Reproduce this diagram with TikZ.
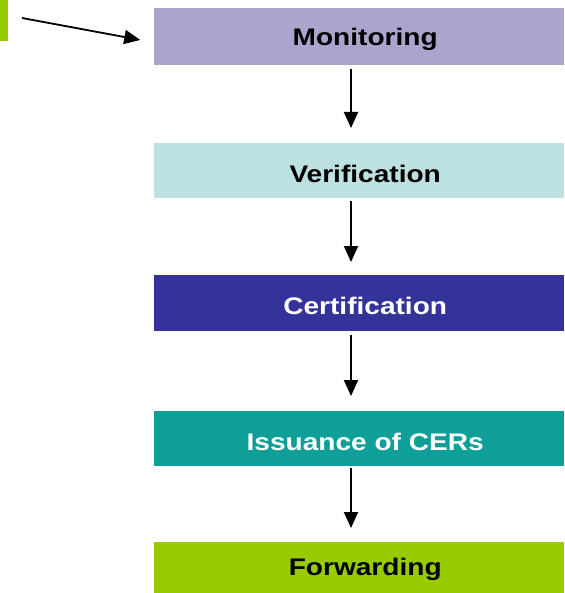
\documentclass[tikz,border=0pt]{standalone}
\usepackage{fontspec}
\setmainfont{Liberation Sans}
\usetikzlibrary{arrows.meta}
\definecolor{cmon}{HTML}{A9A5CD}
\definecolor{cver}{HTML}{BDE0E0}
\definecolor{ccer}{HTML}{33339A}
\definecolor{ciss}{HTML}{0E9F99}
\definecolor{cfwd}{HTML}{99CC00}
\newcommand{\boxtxt}[1]{\scalebox{1.17}[1]{#1}}
\tikzset{
  stagebox/.style={rectangle, inner sep=0pt, minimum width=410pt, anchor=north west},
  stagetext/.style={font=\fontsize{24}{26}\selectfont\bfseries, inner sep=0pt, xshift=6pt, yshift=-3pt},
  flowarrow/.style={-{Triangle[width=14pt,length=16pt]}, line width=2pt, black},
}
\begin{document}
\begin{tikzpicture}[x=1pt,y=-1pt]
\useasboundingbox (0,0) rectangle (564,593);
\node[rectangle, fill=cfwd, inner sep=0pt, minimum width=8pt, minimum height=41pt, anchor=north west] (bar) at (0,0) {};
\node[stagebox, fill=cmon, minimum height=57pt,
  label={[stagetext, text=black]center:\boxtxt{Monitoring}}] (mon) at (154,8) {};
\node[stagebox, fill=cver, minimum height=55pt,
  label={[stagetext, text=black]center:\boxtxt{Verification}}] (ver) at (154,143) {};
\node[stagebox, fill=ccer, minimum height=56pt,
  label={[stagetext, text=white]center:\boxtxt{Certification}}] (cer) at (154,275) {};
\node[stagebox, fill=ciss, minimum height=55pt,
  label={[stagetext, text=white]center:\boxtxt{Issuance of CERs}}] (iss) at (154,411) {};
\node[stagebox, fill=cfwd, minimum height=51pt,
  label={[stagetext, text=black, yshift=1pt]center:\boxtxt{Forwarding}}] (fwd) at (154,542) {};
\coordinate (ax) at (351,0);
\coordinate (start) at (22,18);
\coordinate (tipend) at (154,42.5);
\draw[flowarrow, line width=1.8pt, shorten >=14pt] (start) -- (tipend);
\draw[flowarrow, shorten <=4pt, shorten >=15pt] (mon.south -| ax) -- (ver.north -| ax);
\draw[flowarrow, shorten <=3pt, shorten >=13pt] (ver.south -| ax) -- (cer.north -| ax);
\draw[flowarrow, shorten <=4pt, shorten >=15pt] (cer.south -| ax) -- (iss.north -| ax);
\draw[flowarrow, shorten <=2pt, shorten >=14pt] (iss.south -| ax) -- (fwd.north -| ax);
\end{tikzpicture}
\end{document}
